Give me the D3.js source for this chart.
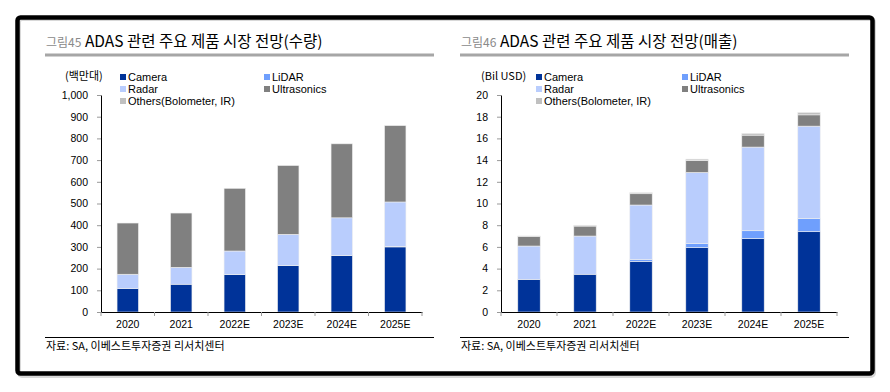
<!DOCTYPE html>
<html><head><meta charset="utf-8">
<script src="https://cdn.jsdelivr.net/npm/d3@7/dist/d3.min.js"></script>
<style>
html,body{margin:0;padding:0;background:#fff;}
svg{display:block;}
text{font-family:"Liberation Sans",Arial,"Noto Sans CJK KR",sans-serif;}
.kr{font-family:"Noto Sans CJK KR","Liberation Sans",sans-serif;}
</style></head>
<body>
<svg id="c" width="890" height="392"></svg>
<script>
// ---- data ----
const years = ["2020","2021","2022E","2023E","2024E","2025E"];
const seriesNames = ["Camera","LiDAR","Radar","Ultrasonics","Others(Bolometer, IR)"];
// volume (백만대)
const cameraVol = [108, 128, 172, 214, 260, 300];
const lidarVol  = [0, 0, 1, 1, 1, 2];
const radarVol  = [66, 78, 108, 143, 173, 205];
const ultraVol  = [236, 250, 289, 317, 341, 352];
const othersVol = [0, 0, 0, 0, 0, 0];
const volTicks = [0,100,200,300,400,500,600,700,800,900,1000];
// revenue (Bil USD)
const cameraRev = [3.0, 3.48, 4.67, 5.93, 6.77, 7.4];
const lidarRev  = [0.0, 0.0, 0.15, 0.38, 0.72, 1.23];
const radarRev  = [3.08, 3.52, 5.04, 6.55, 7.71, 8.5];
const ultraRev  = [0.88, 0.92, 1.04, 1.1, 1.1, 1.04];
const othersRev = [0.05, 0.08, 0.1, 0.13, 0.16, 0.22];
const revTicks = [0,2,4,6,8,10,12,14,16,18,20];

const colors = ["#003399","#6f9ffd","#b9cdfd","#808080","#c0c0c0"];

const svg = d3.select("#c");

// outer frame
svg.append("rect").attr("x",19).attr("y",19).attr("width",855).attr("height",357)
  .attr("rx",3).attr("fill","none").attr("stroke","#d8d8d8").attr("stroke-width",4);
svg.append("rect").attr("x",17.5).attr("y",17.5).attr("width",855).attr("height",356)
  .attr("rx",3).attr("fill","none").attr("stroke","#000").attr("stroke-width",4.5);

function panel(cfg){
  const g = svg.append("g");
  // title
  const t = g.append("text").attr("x",cfg.px).attr("y",47).attr("class","kr");
  t.append("tspan").text(cfg.fig).attr("font-size",12).attr("fill","#8a8a8a");
  t.append("tspan").text(" " + cfg.title).attr("font-size",15.5).attr("font-weight",400).attr("fill","#000");
  g.append("line").attr("x1",cfg.px-1).attr("x2",cfg.px+388).attr("y1",55).attr("y2",55)
    .attr("stroke","#a6a6a6").attr("stroke-width",3);
  // unit
  g.append("text").attr("class","kr").attr("x",cfg.unitX).attr("y",80).attr("font-size",11).text(cfg.unit);

  const x = d3.scaleBand().domain(years).range([cfg.x0,cfg.x1]).paddingInner(0.6).paddingOuter(0.3);
  const y = d3.scaleLinear().domain([0,cfg.max]).range([312,95]);

  const rows = years.map((yr,i)=>{
    const o={year:yr}; cfg.series.forEach((s,j)=>o[seriesNames[j]]=s[i]); return o;});
  const stacked = d3.stack().keys(seriesNames)(rows);

  g.selectAll("g.s").data(stacked).join("g").attr("fill",(d,i)=>colors[i])
    .selectAll("rect").data(d=>d).join("rect")
    .attr("x",d=>x(d.data.year)).attr("width",x.bandwidth())
    .attr("y",d=>y(d[1])).attr("height",d=>Math.max(0,y(d[0])-y(d[1])))
    .attr("stroke","#eeeeee").attr("stroke-width",0.6);

  // y axis
  const ya = g.append("g").attr("transform",`translate(${cfg.x0},0)`)
    .call(d3.axisLeft(y).tickValues(cfg.ticks).tickFormat(cfg.fmt).tickSize(4).tickPadding(9).tickSizeOuter(0));
  ya.select(".domain").attr("stroke","#000");
  ya.selectAll(".tick line").attr("stroke","#999");
  ya.selectAll(".tick text").attr("font-size",10.5).attr("fill","#000").attr("font-family","Liberation Sans, Arial");

  // x axis
  const xa = g.append("g").attr("transform","translate(0,312)")
    .call(d3.axisBottom(x).tickSize(0).tickPadding(9).tickSizeOuter(0));
  xa.select(".domain").attr("stroke","#000");
  xa.selectAll(".tick text").attr("font-size",10.5).attr("fill","#000").attr("font-family","Liberation Sans, Arial");
  const step = x.step(), gap=(step-x.bandwidth())/2;
  const bounds = years.map(d=>x(d)-gap).concat([x(years[years.length-1])+x.bandwidth()+gap]);
  g.selectAll("line.xt").data(bounds).join("line").attr("class","xt")
    .attr("x1",d=>d).attr("x2",d=>d).attr("y1",312).attr("y2",316).attr("stroke","#999");

  // legend
  const pos = [[0,0],[1,0],[0,1],[1,1],[0,2]];
  seriesNames.forEach((n,i)=>{
    const lx = cfg.legX[pos[i][0]], ly = 74 + pos[i][1]*12;
    g.append("rect").attr("x",lx).attr("y",ly).attr("width",6).attr("height",6).attr("fill",colors[i]);
    g.append("text").attr("x",lx+8).attr("y",ly+7).attr("font-size",11).text(n);
  });

  // source
  g.append("line").attr("x1",cfg.px-1).attr("x2",cfg.px+388).attr("y1",337.5).attr("y2",337.5)
    .attr("stroke","#000").attr("stroke-width",1.2);
  g.append("text").attr("class","kr").attr("x",cfg.px).attr("y",350).attr("font-size",11)
    .text("자료: SA, 이베스트투자증권 리서치센터");
}

panel({px:46, fig:"그림45", title:"ADAS 관련 주요 제품 시장 전망(수량)", unit:"(백만대)", unitX:65,
  x0:101, x1:422, max:1000, ticks:volTicks, fmt:d3.format(","),
  series:[cameraVol,lidarVol,radarVol,ultraVol,othersVol], legX:[120,264]});
panel({px:461, fig:"그림46", title:"ADAS 관련 주요 제품 시장 전망(매출)", unit:"(Bil USD)", unitX:481,
  x0:501, x1:837, max:20, ticks:revTicks, fmt:d3.format("d"),
  series:[cameraRev,lidarRev,radarRev,ultraRev,othersRev], legX:[536,682]});
</script>
</body></html>
